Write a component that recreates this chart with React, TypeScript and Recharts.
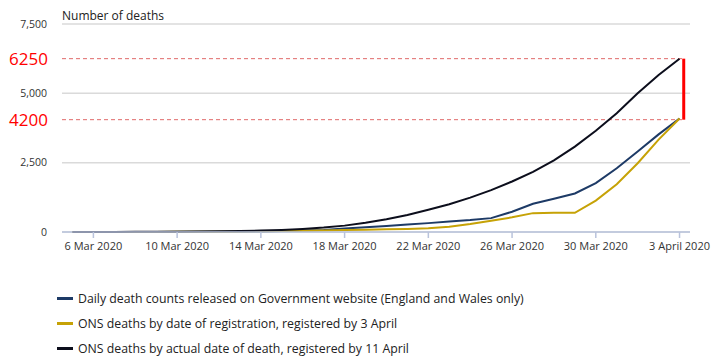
import React from "react";
import { LineChart, Line, XAxis, YAxis, CartesianGrid, ReferenceLine } from "recharts";

// day 0 = 6 Mar 2020, day 28 = 3 April 2020
const days = [-1, 0, 1, 2, 3, 4, 5, 6, 7, 8, 9, 10, 11, 12, 13, 14, 15, 16, 17, 18, 19, 20, 21, 22, 23, 24, 25, 26, 27, 28];

const govDaily = [1, 2, 2, 3, 4, 6, 8, 8, 10, 21, 35, 55, 71, 130, 170, 220, 270, 320, 380, 430, 500, 730, 1020, 1200, 1390, 1764, 2300, 2900, 3520, 4090];
const onsRegistered = [0, 0, 1, 2, 3, 5, 8, 12, 18, 25, 35, 45, 58, 72, 82, 95, 110, 135, 190, 285, 405, 530, 680, 690, 690, 1130, 1720, 2480, 3330, 4090];
const onsActual = [1, 2, 3, 5, 8, 12, 18, 26, 36, 50, 75, 110, 160, 230, 330, 460, 610, 800, 1000, 1240, 1510, 1820, 2170, 2580, 3080, 3650, 4280, 5000, 5660, 6250];

const tickDays = [0, 4, 8, 12, 16, 20, 24, 28];
const tickLabels = ["6 Mar 2020", "10 Mar 2020", "14 Mar 2020", "18 Mar 2020", "22 Mar 2020", "26 Mar 2020", "30 Mar 2020", "3 April 2020"];
const yTicks = [0, 2500, 5000, 7500];

// hand-drawn annotation: label text and where the dashed line sits
const annotLabels = ["6250", "4200"];
const annotValues = [6250, 4050];

const series = [
  { key: "gov", name: "Daily death counts released on Government website (England and Wales only)", color: "#1d3a66" },
  { key: "reg", name: "ONS deaths by date of registration, registered by 3 April", color: "#c6a206" },
  { key: "actual", name: "ONS deaths by actual date of death, registered by 11 April", color: "#0c0e1c" },
];

const data = days.map((d, i) => ({
  day: d,
  gov: govDaily[i],
  reg: onsRegistered[i],
  actual: onsActual[i],
}));

const font = "'Open Sans', sans-serif";
const markX = 28.2;

export default function App() {
  return (
    <div style={{ position: "absolute", left: 0, top: 0, width: 712, height: 358, background: "#fff", fontFamily: font }}>
      <div style={{ position: "absolute", left: 62, top: 7, fontSize: 12, color: "#222" }}>Number of deaths</div>
      <LineChart width={712} height={358} data={data} margin={{ top: 24, right: 22, left: 0, bottom: 96 }}>
        <CartesianGrid horizontal vertical={false} stroke="#dadada" strokeWidth={1.5} />
        <XAxis
          dataKey="day"
          type="number"
          domain={[-1.5, 28.5]}
          ticks={tickDays}
          tickFormatter={(d) => tickLabels[tickDays.indexOf(d)] ?? ""}
          height={30}
          stroke="#b9c3dc"
          strokeWidth={1.5}
          tickSize={6}
          tickMargin={4}
          tick={{ fontSize: 11, fill: "#333", fontFamily: font }}
          interval={0}
        />
        <YAxis
          domain={[0, 7500]}
          ticks={yTicks}
          width={62}
          axisLine={false}
          tickLine={false}
          tickSize={0}
          tickMargin={15}
          tickFormatter={(v) => v.toLocaleString("en-GB")}
          tick={{ fontSize: 10.5, fill: "#333", fontFamily: font }}
        />
        {annotValues.map((v, i) => (
          <ReferenceLine
            key={v}
            segment={[{ x: -1.5, y: v }, { x: markX, y: v }]}
            stroke="#e06a6a"
            strokeDasharray="4 3"
            strokeWidth={1}
            label={{ value: annotLabels[i], position: "left", offset: 14, fill: "#ff0000", fontSize: 17, fontFamily: font }}
          />
        ))}
        {series.map((s) => (
          <Line
            key={s.key}
            dataKey={s.key}
            name={s.name}
            type="linear"
            stroke={s.color}
            strokeWidth={2}
            dot={false}
            isAnimationActive={false}
          />
        ))}
        <ReferenceLine
          segment={[{ x: markX, y: annotValues[1] }, { x: markX, y: annotValues[0] }]}
          stroke="#ff0000"
          strokeWidth={3}
        />
      </LineChart>
      <div style={{ position: "absolute", left: 57, top: 286 }}>
        {series.map((s) => (
          <div key={s.key} style={{ display: "flex", alignItems: "center", height: 25, fontSize: 12.3, color: "#222" }}>
            <span style={{ display: "inline-block", width: 16, height: 2.5, background: s.color, marginRight: 5 }} />
            {s.name}
          </div>
        ))}
      </div>
    </div>
  );
}
